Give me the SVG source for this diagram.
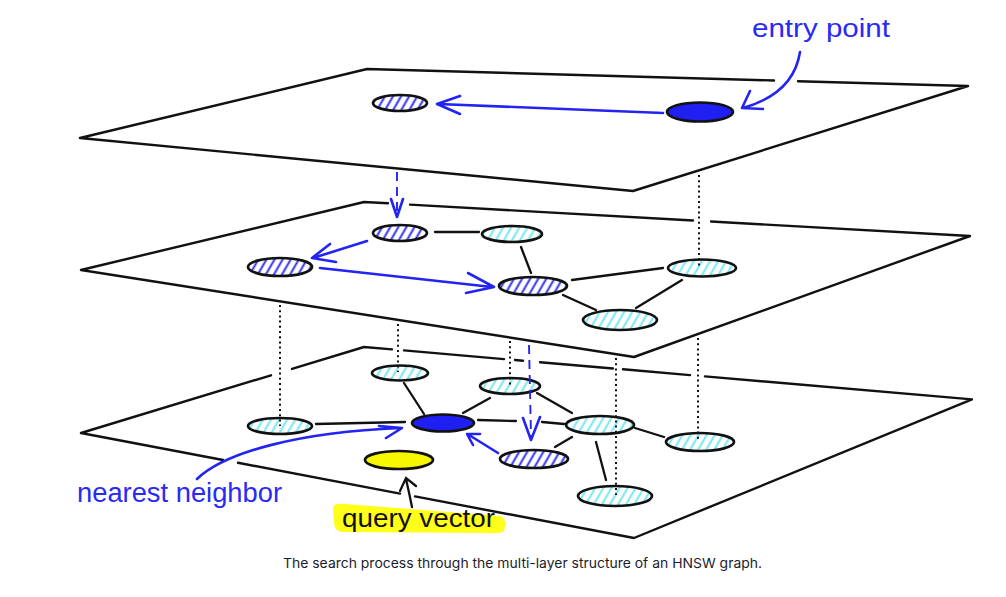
<svg xmlns="http://www.w3.org/2000/svg" width="1006" height="597" viewBox="0 0 1006 597">
<defs>
<pattern id="hb" width="7" height="7" patternUnits="userSpaceOnUse" patternTransform="rotate(30)"><line x1="3.5" y1="-1" x2="3.5" y2="8" stroke="#2727ee" stroke-width="1.9"/></pattern>
<pattern id="hc" width="7" height="7" patternUnits="userSpaceOnUse" patternTransform="rotate(30)"><line x1="3.5" y1="-1" x2="3.5" y2="8" stroke="#6fe4ee" stroke-width="1.9"/></pattern>
<style>
.plane{fill:none;stroke:#111;stroke-width:2.4;stroke-linecap:round;stroke-linejoin:round}
.nd{stroke:#111;stroke-width:2.7}
.hb{fill:url(#hb)}
.hc{fill:url(#hc)}
.bl{fill:#1f1ff2}
.yl{fill:#f7f700}
.edge{fill:none;stroke:#111;stroke-width:2.3;stroke-linecap:round}
.dot{fill:none;stroke:#111;stroke-width:2;stroke-dasharray:2 3.2}
.arr{fill:none;stroke:#2424f2;stroke-width:2.6;stroke-linecap:round;stroke-linejoin:round}
.dash{fill:none;stroke:#2424f2;stroke-width:1.9;stroke-dasharray:9 6}
.hand{font-family:"Liberation Sans","DejaVu Sans",sans-serif}
</style>
</defs>
<rect width="1006" height="597" fill="#fff"/>
<g id="planes">
<path class="plane" d="M80,138 L367,69 L774,80.5 M798,81.2 L968,86 L633,191 L80,138"/>
<path class="plane" d="M81,270 L364,202 L388,203.3 M410,204.6 L693,220.5 M711,221.5 L970,236 L634,357 L81,270"/>
<path class="plane" d="M81,433 L271,375.3 M292,368.9 L364,347 L392,349.4 M404,350.4 L504,359.1 M515,360 L523,360.7 M540,362.2 L613,368.5 M623,369.3 L690,375.1 M705,376.4 L972,399.4 L634,538 L415,496.4 M400,493.6 L238,462.8 M223,460 L81,433"/>
</g>
<g id="top-visited"><ellipse class="nd hb" cx="400" cy="103" rx="27" ry="8"/></g>
<g id="top-entry"><ellipse class="nd bl" cx="700" cy="112" rx="33" ry="9.5"/></g>
<g id="mid-a"><ellipse class="nd hb" cx="400" cy="233" rx="27" ry="8"/></g>
<g id="mid-b"><ellipse class="nd hc" cx="512" cy="234" rx="30" ry="8"/></g>
<g id="mid-c"><ellipse class="nd hb" cx="280" cy="267" rx="32" ry="9"/></g>
<g id="mid-d"><ellipse class="nd hb" cx="533" cy="286" rx="34" ry="9"/></g>
<g id="mid-e"><ellipse class="nd hc" cx="702" cy="268" rx="34" ry="8.5"/></g>
<g id="mid-f"><ellipse class="nd hc" cx="620" cy="320" rx="37" ry="10"/></g>
<g id="bot-1"><ellipse class="nd hc" cx="400" cy="373" rx="28" ry="7.5"/></g>
<g id="bot-2"><ellipse class="nd hc" cx="510" cy="386" rx="30" ry="8"/></g>
<g id="bot-3"><ellipse class="nd hc" cx="280" cy="426" rx="32" ry="8"/></g>
<g id="bot-nearest"><ellipse class="nd bl" cx="443" cy="423" rx="31" ry="8.5"/></g>
<g id="bot-4"><ellipse class="nd hc" cx="600" cy="425" rx="34" ry="9"/></g>
<g id="bot-5"><ellipse class="nd hc" cx="700" cy="442" rx="34" ry="9"/></g>
<g id="bot-6"><ellipse class="nd hb" cx="534" cy="459" rx="34" ry="9"/></g>
<g id="bot-7"><ellipse class="nd hc" cx="615" cy="496" rx="37" ry="10"/></g>
<g id="query"><ellipse class="nd yl" cx="399" cy="460" rx="34" ry="9"/></g>
<g id="connectors">
<path class="edge" d="M435,232 L479,232 M521,247 L531,273 M572,280 L663,268 M563,295 L596,310 M682,280 L636,308"/>
<path class="edge" d="M316,424 L405,422 M404,383 L424,414 M463,413 L490,398 M478,420 L516,421 M542,422 L564,424 M537,393 L572,413 M572,437 L555,447 M596,442 L606,480 M635,428 L664,437"/>
<path class="dot" d="M699,175 V266 M280,305 V426 M398,324 V372 M510,341 V385 M616,358 V495 M698,338 V441"/>
<path class="dash" d="M397,172 V214 M529,345 L531,436"/>
<path class="arr" stroke-width="2" d="M391,199 L397,217 L403,199 M523,418 L531,440 L540,417"/>
<path class="arr" d="M663,113 L438,104 M460,96 L437,104 L460,114"/>
<path class="arr" d="M800,52 C796,78 778,98 743,108 M750,91 L742,108 L763,109"/>
<path class="arr" d="M367,241 L313,258 M330,244 L312,258 L336,262"/>
<path class="arr" d="M320,268 L492,287 M468,273 L494,287 L466,293"/>
<path class="arr" stroke-width="3.4" d="M498,453 L469,435 M480,434 L467,434 L473,445"/>
<path class="arr" d="M197,479 C225,452 300,432 400,428 M379,426 L402,428 L386,438"/>
<path class="edge" d="M412,507 Q409,492 406,479 M400,491 L406,478 L416,486"/>
</g>
<g id="labels">
<text class="hand" x="752" y="37" font-size="26" fill="#2a2af5" textLength="138" lengthAdjust="spacingAndGlyphs">entry point</text>
<text class="hand" x="77" y="502" font-size="27" fill="#2a2af5" textLength="205" lengthAdjust="spacingAndGlyphs">nearest neighbor</text>
<path d="M333,507 Q335,503 345,504 L500,516 Q506,518 505,526 L504,531 Q500,534 490,533 L342,532 Q334,531 334,522 Z" fill="#ffff1a"/>
<text class="hand" x="342" y="527" font-size="26" fill="#111" textLength="153" lengthAdjust="spacingAndGlyphs">query vector</text>
<text x="283" y="568" font-family="Inter,'Liberation Sans',sans-serif" font-size="13.5" fill="#1c1c2a" textLength="479" lengthAdjust="spacingAndGlyphs">The search process through the multi-layer structure of an HNSW graph.</text>
</g>
</svg>
